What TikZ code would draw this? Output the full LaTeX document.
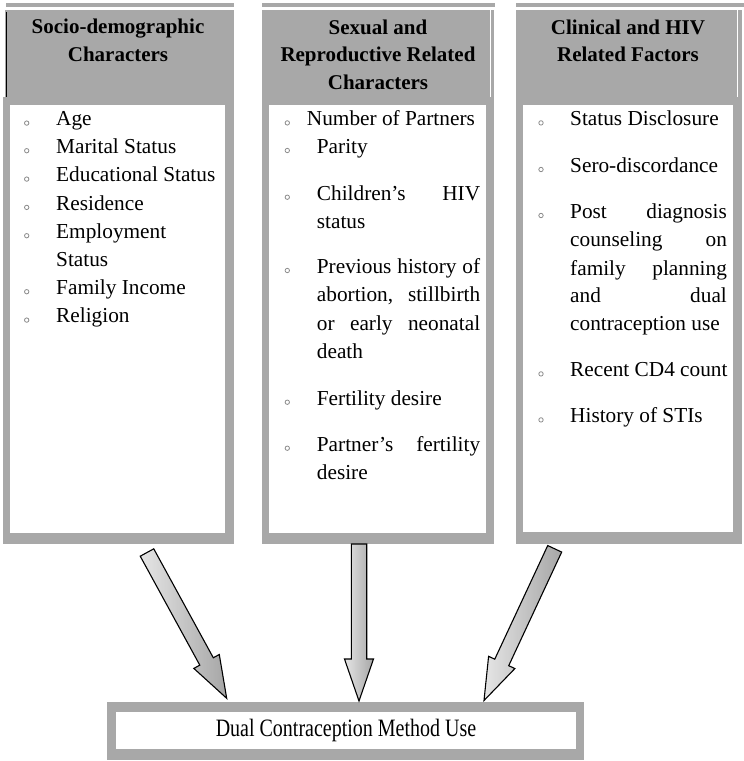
\documentclass[tikz,border=0pt]{standalone}
\usepackage{fontspec}
\usepackage{graphicx}
\setmainfont{Liberation Serif}
\usetikzlibrary{calc}
\definecolor{bx}{RGB}{168,168,168}
\tikzset{
  hdrtxt/.style={font=\fontsize{21}{26}\selectfont\bfseries, anchor=base, inner sep=0pt},
  itm/.style={font=\fontsize{21.3}{26}\selectfont, anchor=base west, inner sep=0pt},
  bul/.style={circle, draw=gray!90, line width=0.8pt, minimum size=4.4pt, inner sep=0pt},
  blockarr/.style={draw=black, line width=1.1pt, line join=miter, left color=gray!20, right color=gray!70},
}
\newcommand\blockarrow[2]{%
  \coordinate (#1-m) at ($(#2)!42pt!(#1)$);
  \draw[blockarr] ($(#1)!7.7pt!90:(#2)$) -- ($(#1-m)!7.7pt!90:(#2)$) -- ($(#1-m)!14.5pt!90:(#2)$) -- (#2)
     -- ($(#1-m)!14.5pt!-90:(#2)$) -- ($(#1-m)!7.7pt!-90:(#2)$) -- ($(#1)!7.7pt!-90:(#2)$) -- cycle;
}
\begin{document}
\begin{tikzpicture}[x=1pt,y=-1pt]
\useasboundingbox (0,0) rectangle (744,761);
\fill[white] (0,0) rectangle (744,761);

% ---- headers
\fill[bx] (5.5,2.7) rectangle (234,6.7);
\fill[bx] (5,9.5) rectangle (234,100);
\draw[black, line width=0.9pt] (6,12) -- (6,97);
\fill[bx] (262,2.7) rectangle (495,6.7);
\fill[bx] (262,9.5) rectangle (494,100);
\draw[white, line width=0.9pt] (490.5,10) -- (490.5,97);
\fill[bx] (516,2.7) rectangle (744,6.7);
\fill[bx] (516,9.5) rectangle (742,100);
\draw[white, line width=0.9pt] (737,10) -- (737,97);

% ---- list frames
\fill[bx] (2.7,97) rectangle (234,544);
\fill[white] (10,105) rectangle (225,533);
\fill[bx] (261.7,97) rectangle (494,544);
\fill[white] (269.3,105) rectangle (486,533);
\fill[bx] (515.7,97) rectangle (742.3,544);
\fill[white] (523.3,105) rectangle (733.3,532);

% ---- bottom box
\fill[bx] (107,702) rectangle (584,760);
\fill[white] (116,712) rectangle (576,749);
\node[font=\fontsize{25}{30}\selectfont, anchor=base, inner sep=0pt] (res) at (346,736) {\scalebox{0.8}[1]{Dual Contraception Method Use}};

% ---- header texts
\node[hdrtxt] (h1a) at (118,33.3) {Socio-demographic};
\node[hdrtxt] (h1b) at (118,61) {Characters};
\node[hdrtxt] (h2a) at (378,34.3) {Sexual and};
\node[hdrtxt] (h2b) at (378,61.7) {Reproductive Related};
\node[hdrtxt] (h2c) at (378,89.3) {Characters};
\node[hdrtxt] (h3a) at (628,34.3) {Clinical and HIV};
\node[hdrtxt] (h3b) at (628,61.7) {Related Factors};

% ---- left list
\node[itm] (l1) at (56,125.7) {Age};
\node[itm] (l2) at (56,153.3) {Marital Status};
\node[itm] (l3) at (56,181.7) {Educational Status};
\node[itm] (l4) at (56,210) {Residence};
\node[itm] (l5) at (56,238.3) {Employment};
\node[itm] (l6) at (56,266.7) {Status};
\node[itm] (l7) at (56,294.3) {Family Income};
\node[itm] (l8) at (56,322.7) {Religion};
\foreach \y/\n in {125.7/1,153.3/2,181.7/3,210/4,238.3/5,294.3/7,322.7/8}
  \node[bul] (lb\n) at (26.7,\y-2.6) {};

% ---- middle list
\node[itm] (m1) at (306.7,125.7) {Number of Partners};
\node[itm] (m2) at (316.7,153.3) {Parity};
\node[itm] (m3) at (316.7,200) {\makebox[163.3pt][s]{Children’s HIV}};
\node[itm] (m4) at (316.7,228.3) {status};
\node[itm] (m5) at (316.7,273.3) {\makebox[163.3pt][s]{Previous history of}};
\node[itm] (m6) at (316.7,301.7) {\makebox[163.3pt][s]{abortion, stillbirth}};
\node[itm] (m7) at (316.7,330) {\makebox[163.3pt][s]{or early neonatal}};
\node[itm] (m8) at (316.7,358.3) {death};
\node[itm] (m9) at (316.7,405) {Fertility desire};
\node[itm] (m10) at (316.7,451) {\makebox[163.3pt][s]{Partner’s fertility}};
\node[itm] (m11) at (316.7,479) {desire};
\foreach \y/\n in {125.7/1,153.3/2,200/3,273.3/5,405/9,451/10}
  \node[bul] (mb\n) at (287.3,\y-2.8) {};

% ---- right list
\node[itm] (r1) at (570,125.7) {Status Disclosure};
\node[itm] (r2) at (570,172.3) {Sero-discordance};
\node[itm] (r3) at (570,218.3) {\makebox[156.7pt][s]{Post diagnosis}};
\node[itm] (r4) at (570,246.7) {\makebox[156.7pt][s]{counseling on}};
\node[itm] (r5) at (570,275) {\makebox[156.7pt][s]{family planning}};
\node[itm] (r6) at (570,302.7) {\makebox[156.7pt][s]{and dual}};
\node[itm] (r7) at (570,330) {contraception use};
\node[itm] (r8) at (570,376.7) {Recent CD4 count};
\node[itm] (r9) at (570,422.7) {History of STIs};
\foreach \y/\n in {125.7/1,172.3/2,218.3/3,376.7/8,422.7/9}
  \node[bul] (rb\n) at (541,\y-2.8) {};

% ---- block arrows
\coordinate (ta) at (147,552.5);  \coordinate (ha) at (226.7,698.3);
\coordinate (tb) at (359,544);    \coordinate (hb) at (359,701);
\coordinate (tc) at (554.7,548.8); \coordinate (hc) at (484,700.5);
\blockarrow{ta}{ha}
\blockarrow{tb}{hb}
\blockarrow{tc}{hc}
\end{tikzpicture}
\end{document}
